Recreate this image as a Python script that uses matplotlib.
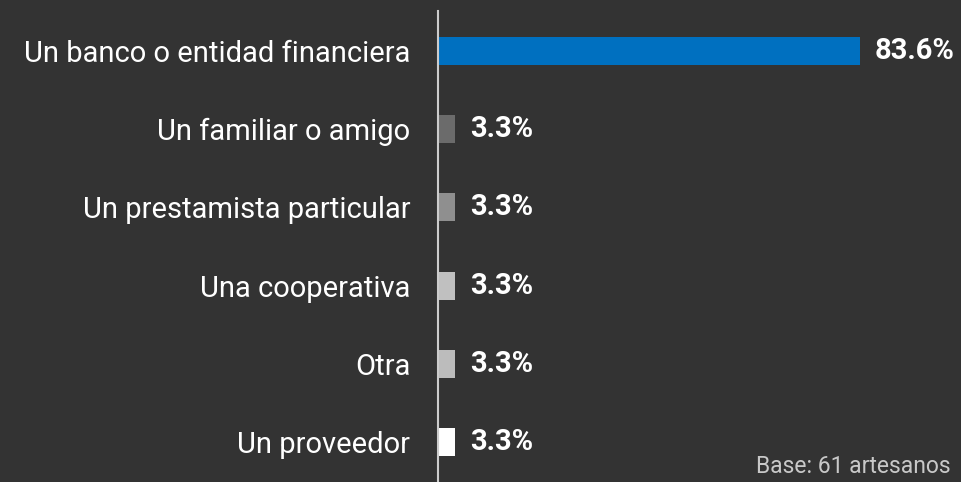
import matplotlib
matplotlib.use("Agg")
import matplotlib.pyplot as plt

# Fuentes de financiamiento de los artesanos
categories = [
    "Un banco o entidad financiera",
    "Un familiar o amigo",
    "Un prestamista particular",
    "Una cooperativa",
    "Otra",
    "Un proveedor",
]
values = [83.6, 3.3, 3.3, 3.3, 3.3, 3.3]
colors = ["#0070c0", "#6b6b6b", "#8f8f8f", "#c0c0c0", "#bcbcbc", "#ffffff"]
note = "Base: 61 artesanos"

bg = "#333333"
plt.rcParams["font.family"] = ["Roboto", "DejaVu Sans"]

fig = plt.figure(figsize=(9.62, 4.82), dpi=100, facecolor=bg)
ax = fig.add_axes([438 / 962, 0, (860 - 438) / 962, 1 - 11 / 482])
ax.set_facecolor(bg)

ypos = list(range(len(categories)))
ax.barh(ypos, values, height=0.36, color=colors, left=0.05)
ax.set_xlim(0, 83.65)
ax.set_ylim(len(categories) - 0.49, -0.51)

for y, v in zip(ypos, values):
    ax.text(v + 3.0, y, f"{v:.1f}%", va="center", ha="left", color="white",
            fontsize=21, fontweight="bold", clip_on=False)

ax.set_yticks(ypos)
ax.set_yticklabels(categories, color="white", fontsize=21)
ax.tick_params(axis="y", length=0, pad=20)
ax.set_xticks([])
for s in ["top", "right", "bottom"]:
    ax.spines[s].set_visible(False)
ax.spines["left"].set_color("#cccccc")
ax.spines["left"].set_linewidth(1.5)

fig.text(951 / 962, 4 / 482, note, ha="right", va="bottom", color="#c8c8c8", fontsize=16.5)

fig.savefig("out.png", facecolor=bg)
